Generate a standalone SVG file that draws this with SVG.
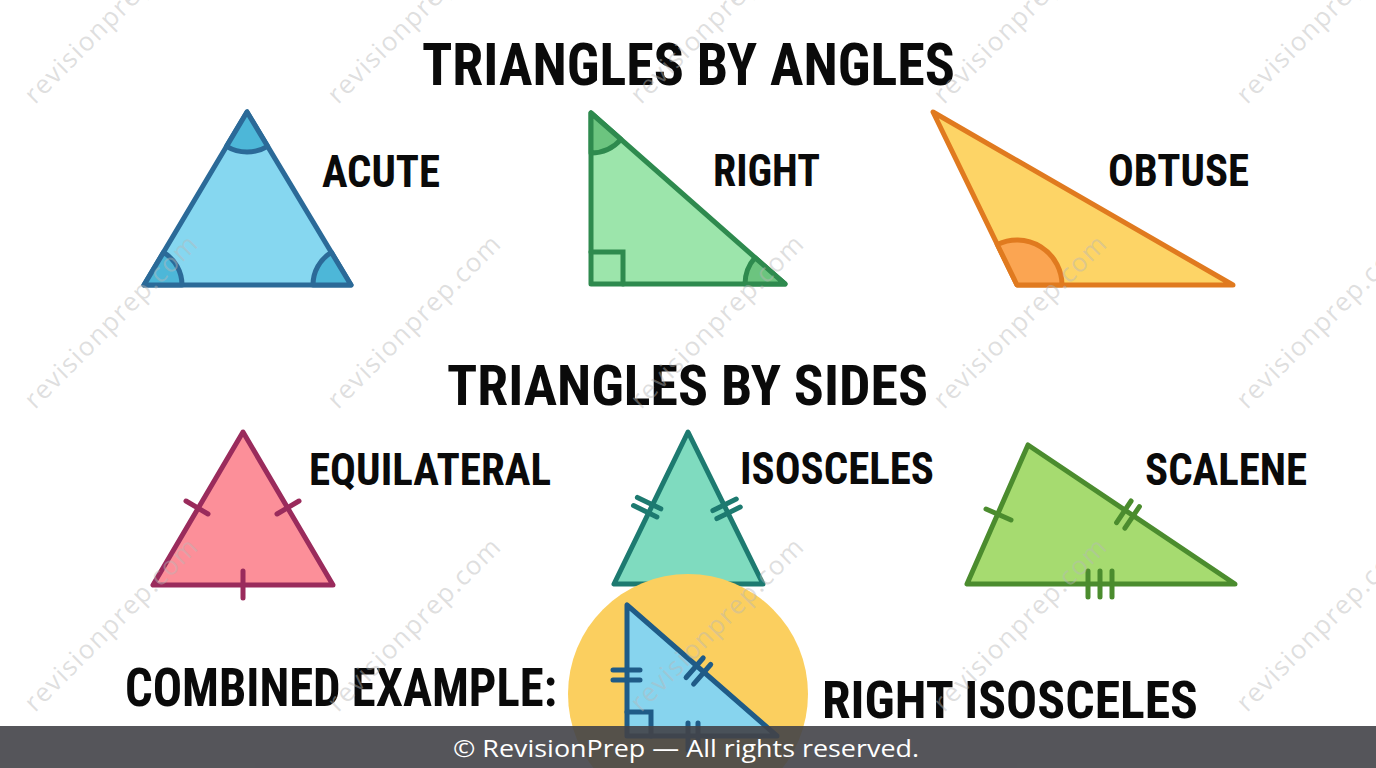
<svg xmlns="http://www.w3.org/2000/svg" width="1376" height="768" viewBox="0 0 1376 768">
<style>
.t{font-family:"Roboto Condensed","Liberation Sans Narrow",Roboto,"Liberation Sans",sans-serif;font-weight:700;fill:#0a0a0a}
.tri{stroke-width:5;stroke-linejoin:round;stroke-linecap:round}
.tk{fill:none;stroke-width:5;stroke-linecap:round}
.wm{font-family:"Open Sans","Liberation Sans",sans-serif;font-size:26px;fill:#b8b8b8;fill-opacity:0.45}
.ft{font-family:"Open Sans","Liberation Sans",sans-serif;font-size:24px;fill:#ffffff}
</style>
<rect width="1376" height="768" fill="#ffffff"/>

<g id="title-angles"><text class="t" x="422" y="85" font-size="59" textLength="533" lengthAdjust="spacingAndGlyphs">TRIANGLES BY ANGLES</text></g>

<g id="acute">
<polygon class="tri" points="247,112 144,285 351,285" fill="#86d7f0" stroke="#2b6a98"/>
<path class="tri" d="M247,112 L226.5,146.4 A40,40 0 0 0 267.6,146.3 Z" fill="#4db7d8" stroke="#2b6a98"/>
<path class="tri" d="M144,285 L182,285 A38,38 0 0 0 163.5,252.4 Z" fill="#4db7d8" stroke="#2b6a98"/>
<path class="tri" d="M351,285 L313,285 A38,38 0 0 1 331.4,252.4 Z" fill="#4db7d8" stroke="#2b6a98"/>
<text class="t" x="322" y="187" font-size="44" textLength="118" lengthAdjust="spacingAndGlyphs">ACUTE</text>
</g>

<g id="right">
<polygon class="tri" points="591,113 591,284 785,284" fill="#9ce5ab" stroke="#2e8a4e"/>
<path class="tri" d="M591,113 L591,153 A40,40 0 0 0 621,139.4 Z" fill="#6cc47f" stroke="#2e8a4e"/>
<path class="tri" d="M785,284 L745,284 A40,40 0 0 1 755,257.6 Z" fill="#6cc47f" stroke="#2e8a4e"/>
<path class="tk" d="M591,252 H623 V284" stroke="#2e8a4e"/>
<text class="t" x="713" y="186" font-size="44" textLength="107" lengthAdjust="spacingAndGlyphs">RIGHT</text>
</g>

<g id="obtuse">
<polygon class="tri" points="933,112 1017,285 1233,285" fill="#fdd466" stroke="#e07a1f"/>
<path class="tri" d="M1017,285 L1062,285 A45,45 0 0 0 997.3,244.5 Z" fill="#fba552" stroke="#e07a1f"/>
<text class="t" x="1108" y="186" font-size="44" textLength="141" lengthAdjust="spacingAndGlyphs">OBTUSE</text>
</g>

<g id="title-sides"><text class="t" x="447" y="405" font-size="56" textLength="481" lengthAdjust="spacingAndGlyphs">TRIANGLES BY SIDES</text></g>

<g id="equilateral">
<polygon class="tri" points="243,432 153,585 333,585" fill="#fc8f99" stroke="#9a2b5c"/>
<path class="tk" d="M186,501 L208,514 M277,514 L299,501 M243,571 V598" stroke="#9a2b5c"/>
<text class="t" x="309" y="485" font-size="45" textLength="242" lengthAdjust="spacingAndGlyphs">EQUILATERAL</text>
</g>

<g id="isosceles">
<polygon class="tri" points="688,432 614,584 763,584" fill="#7fdbbf" stroke="#1d7a70"/>
<path class="tk" d="M637.4,497.4 L660.8,508.8 M633.5,505.5 L656.9,516.9 M712.9,510.6 L736.3,499.1 M716.9,518.6 L740.3,507.1" stroke="#1d7a70"/>
<text class="t" x="740" y="484" font-size="45" textLength="194" lengthAdjust="spacingAndGlyphs">ISOSCELES</text>
</g>

<g id="scalene">
<polygon class="tri" points="1028,445 967,584 1235,584" fill="#a6db70" stroke="#4b8c2e"/>
<path class="tk" d="M986,509 L1011,520 M1116.6,522.6 L1131.1,501 M1124.9,528.2 L1139.4,506.6 M1088,571 V597 M1100,571 V597 M1112,571 V597" stroke="#4b8c2e"/>
<text class="t" x="1145" y="485" font-size="45" textLength="162" lengthAdjust="spacingAndGlyphs">SCALENE</text>
</g>

<g id="combined">
<circle cx="688" cy="694" r="120" fill="#fbcf5f"/>
<polygon class="tri" points="627,605 627,736 777,736" fill="#87d4ee" stroke="#1f5b87"/>
<path class="tk" d="M627,712 H651 V736 M613,670 H640 M613,680 H640 M686.1,677.5 L703.2,658 M693.6,684.1 L710.7,664.5 M688,723 V750 M698,723 V750" stroke="#1f5b87"/>
<text class="t" x="125" y="706" font-size="54" textLength="432" lengthAdjust="spacingAndGlyphs">COMBINED EXAMPLE:</text>
<text class="t" x="822" y="718" font-size="51" textLength="376" lengthAdjust="spacingAndGlyphs">RIGHT ISOSCELES</text>
</g>

<g id="connectors"/>

<g id="watermarks">
<text class="wm" x="35" y="105" transform="rotate(-45 35 105)" textLength="232">revisionprep.com</text>
<text class="wm" x="338" y="105" transform="rotate(-45 338 105)" textLength="232">revisionprep.com</text>
<text class="wm" x="641" y="105" transform="rotate(-45 641 105)" textLength="232">revisionprep.com</text>
<text class="wm" x="944" y="105" transform="rotate(-45 944 105)" textLength="232">revisionprep.com</text>
<text class="wm" x="1247" y="105" transform="rotate(-45 1247 105)" textLength="232">revisionprep.com</text>
<text class="wm" x="35" y="410" transform="rotate(-45 35 410)" textLength="232">revisionprep.com</text>
<text class="wm" x="338" y="410" transform="rotate(-45 338 410)" textLength="232">revisionprep.com</text>
<text class="wm" x="641" y="410" transform="rotate(-45 641 410)" textLength="232">revisionprep.com</text>
<text class="wm" x="944" y="410" transform="rotate(-45 944 410)" textLength="232">revisionprep.com</text>
<text class="wm" x="1247" y="410" transform="rotate(-45 1247 410)" textLength="232">revisionprep.com</text>
<text class="wm" x="35" y="713" transform="rotate(-45 35 713)" textLength="232">revisionprep.com</text>
<text class="wm" x="338" y="713" transform="rotate(-45 338 713)" textLength="232">revisionprep.com</text>
<text class="wm" x="641" y="713" transform="rotate(-45 641 713)" textLength="232">revisionprep.com</text>
<text class="wm" x="944" y="713" transform="rotate(-45 944 713)" textLength="232">revisionprep.com</text>
<text class="wm" x="1247" y="713" transform="rotate(-45 1247 713)" textLength="232">revisionprep.com</text>
</g>

<g id="footer">
<rect x="0" y="726" width="1376" height="42" fill="#424348" fill-opacity="0.9"/>
<text class="ft" x="453" y="757" textLength="466" lengthAdjust="spacingAndGlyphs">© RevisionPrep — All rights reserved.</text>
</g>
</svg>
